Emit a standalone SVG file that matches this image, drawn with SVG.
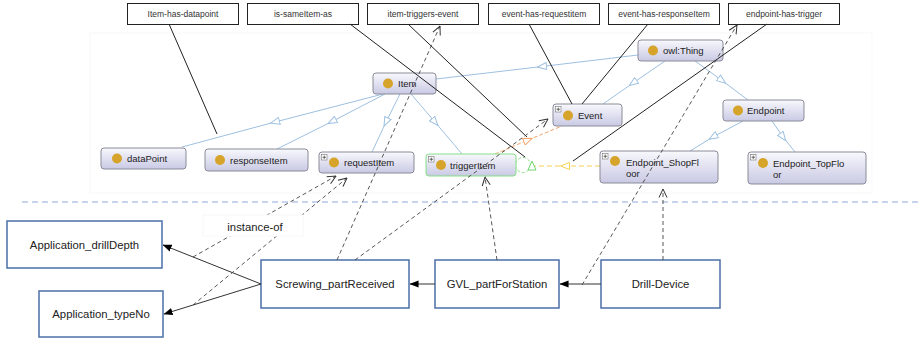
<svg xmlns="http://www.w3.org/2000/svg" width="920" height="340" viewBox="0 0 920 340">
<defs>
<linearGradient id="ng" x1="0" y1="0" x2="0" y2="1">
<stop offset="0" stop-color="#f8f8fd"/>
<stop offset="1" stop-color="#c9c9e4"/>
</linearGradient>
<marker id="tri" viewBox="0 0 10 8" markerUnits="userSpaceOnUse" markerWidth="10" markerHeight="8" refX="5" refY="4" orient="auto">
<path d="M0.5,0.5 L9.5,4 L0.5,7.5 z" fill="#fff" stroke="#9dc0e0" stroke-width="1"/>
</marker>
<marker id="triO" viewBox="0 0 10 8" markerUnits="userSpaceOnUse" markerWidth="10" markerHeight="8" refX="5" refY="4" orient="auto">
<path d="M0.5,0.5 L9.5,4 L0.5,7.5 z" fill="#fff" stroke="#f5a66e" stroke-width="1"/>
</marker>
<marker id="triY" viewBox="0 0 10 8" markerUnits="userSpaceOnUse" markerWidth="10" markerHeight="8" refX="5" refY="4" orient="auto">
<path d="M0.5,0.5 L9.5,4 L0.5,7.5 z" fill="#fff" stroke="#f7d155" stroke-width="1"/>
</marker>
<marker id="open" viewBox="0 0 10 10" markerUnits="userSpaceOnUse" markerWidth="10" markerHeight="10" refX="9.5" refY="5" orient="auto">
<path d="M1,1 L9.5,5 L1,9" fill="none" stroke="#333" stroke-width="1"/>
</marker>
<marker id="fill" viewBox="0 0 10 8" markerUnits="userSpaceOnUse" markerWidth="9" markerHeight="8" refX="9.5" refY="4" orient="auto">
<path d="M0,0 L10,4 L0,8 z" fill="#000"/>
</marker>
<style>
.onode{fill:url(#ng);stroke:#8b8b99;stroke-width:1}
.trig{fill:url(#ng);stroke:#86df86;stroke-width:1}
.dot{fill:#d7a42b}
.ot{font-family:"Liberation Sans",Arial,sans-serif;font-size:9.5px;fill:#222}
.plus{fill:#fff;stroke:#777;stroke-width:0.6}
.pl{stroke:#333;stroke-width:0.7}
.lbox{fill:#fff;stroke:#222;stroke-width:1}
.lt{font-family:"Liberation Sans",Arial,sans-serif;font-size:8.5px;fill:#333;text-anchor:middle}
.ibox{fill:#fff;stroke:#4a6fa8;stroke-width:1.5}
.it{font-family:"Liberation Sans",Arial,sans-serif;font-size:11.3px;fill:#222;text-anchor:middle}
.sub{fill:none;stroke:#9dc0e0;stroke-width:1;marker-mid:url(#tri)}
.blk{stroke:#222;stroke-width:1;fill:none}
.dsh{stroke:#444;stroke-width:0.9;fill:none;stroke-dasharray:4,3;marker-end:url(#open)}
.sol{stroke:#333;stroke-width:1;fill:none;marker-end:url(#fill)}
</style>
</defs>
<rect width="920" height="340" fill="#fff"/>
<rect x="90" y="33" width="782" height="160" fill="none" stroke="#f7f7f7" stroke-width="1"/>
<line x1="22" y1="202" x2="920" y2="202" stroke="#8eaadb" stroke-width="1.2" stroke-dasharray="6,4"/>

<g id="subclass-edges">
<polyline class="sub" points="638,55 542,66.5 436,79"/>
<polyline class="sub" points="665,61 633,83 603,104"/>
<polyline class="sub" points="695,61 722,80.5 748,100"/>
<polyline class="sub" points="383,94 275,122 182,147"/>
<polyline class="sub" points="385,94 332,121.5 277,149"/>
<polyline class="sub" points="400,94 386,122 372,152"/>
<polyline class="sub" points="411,94 435,122 462,154"/>
<polyline class="sub" points="743,121 713,137 690,151"/>
<polyline class="sub" points="772,121 783,137 795,152"/>
<polyline points="495,154 528,140 562,126" fill="none" stroke="#f5a66e" stroke-width="1" stroke-dasharray="4,2" marker-mid="url(#triO)"/>
<polyline points="600,166 565,166 532,166" fill="none" stroke="#f7d155" stroke-width="1" stroke-dasharray="5,3" marker-mid="url(#triY)"/>
<circle cx="523" cy="165" r="7.5" fill="none" stroke="#86df86" stroke-width="1" stroke-dasharray="3,2"/>
<path d="M528,170 L536,170 L532,161 z" fill="#fff" stroke="#6fd46f" stroke-width="1"/>
</g>

<g id="n-owlThing"><rect class="onode" x="638" y="40" width="85" height="21" rx="3"/><circle class="dot" cx="653" cy="50.5" r="5"/><text class="ot" x="663" y="54">owl:Thing</text></g>
<g id="n-Item"><rect class="onode" x="373" y="73" width="63" height="21" rx="3"/><circle class="dot" cx="388" cy="83.5" r="5"/><text class="ot" x="398" y="87">Item</text></g>
<g id="n-Event"><rect class="onode" x="553" y="104" width="69" height="22" rx="3"/><rect class="plus" x="555.5" y="106.5" width="5.5" height="5.5"/><path class="pl" d="M556.5,109.25 h3.5 M558.25,107.5 v3.5"/><circle class="dot" cx="568" cy="115.5" r="5"/><text class="ot" x="578" y="119">Event</text></g>
<g id="n-Endpoint"><rect class="onode" x="723" y="100" width="81" height="21" rx="3"/><circle class="dot" cx="738" cy="110.5" r="5"/><text class="ot" x="747" y="114">Endpoint</text></g>
<g id="n-dataPoint"><rect class="onode" x="101" y="148" width="85" height="21" rx="3"/><circle class="dot" cx="117" cy="158.5" r="5"/><text class="ot" x="127" y="162">dataPoint</text></g>
<g id="n-responseItem"><rect class="onode" x="205" y="149" width="103" height="22" rx="3"/><circle class="dot" cx="220" cy="160" r="5"/><text class="ot" x="230" y="163.5">responseItem</text></g>
<g id="n-requestItem"><rect class="onode" x="319" y="152" width="95" height="21" rx="3"/><rect class="plus" x="321.5" y="154.5" width="5.5" height="5.5"/><path class="pl" d="M322.5,157.25 h3.5 M324.25,155.5 v3.5"/><circle class="dot" cx="334" cy="162.5" r="5"/><text class="ot" x="344" y="166">requestItem</text></g>
<g id="n-triggerItem"><rect class="trig" x="426" y="154" width="90" height="22" rx="3"/><rect class="plus" x="428.5" y="156.5" width="5.5" height="5.5"/><path class="pl" d="M429.5,159.25 h3.5 M431.25,157.5 v3.5"/><circle class="dot" cx="441" cy="165" r="5"/><text class="ot" x="450" y="168.5">triggerItem</text></g>
<g id="n-Endpoint_ShopFloor"><rect class="onode" x="600" y="151" width="118" height="32" rx="3"/><rect class="plus" x="602.5" y="153.5" width="5.5" height="5.5"/><path class="pl" d="M603.5,156.25 h3.5 M605.25,154.5 v3.5"/><circle class="dot" cx="615" cy="161" r="5"/><text class="ot" x="626" y="165.5">Endpoint_ShopFl</text><text class="ot" x="626" y="176.5">oor</text></g>
<g id="n-Endpoint_TopFloor"><rect class="onode" x="748" y="152" width="118" height="32" rx="3"/><rect class="plus" x="750.5" y="154.5" width="5.5" height="5.5"/><path class="pl" d="M751.5,157.25 h3.5 M753.25,155.5 v3.5"/><circle class="dot" cx="763" cy="163" r="5"/><text class="ot" x="773" y="167">Endpoint_TopFlo</text><text class="ot" x="773" y="178">or</text></g>

<g id="l-Item-has-datapoint"><rect class="lbox" x="127.5" y="3.5" width="111" height="21"/><text class="lt" x="183" y="16.5">Item-has-datapoint</text></g>
<g id="l-is-sameItem-as"><rect class="lbox" x="247.5" y="3.5" width="111" height="21"/><text class="lt" x="303" y="16.5">is-sameItem-as</text></g>
<g id="l-item-triggers-event"><rect class="lbox" x="367.5" y="3.5" width="111" height="21"/><text class="lt" x="423" y="16.5">item-triggers-event</text></g>
<g id="l-event-has-requestitem"><rect class="lbox" x="488.5" y="3.5" width="111" height="21"/><text class="lt" x="544" y="16.5">event-has-requestitem</text></g>
<g id="l-event-has-responseItem"><rect class="lbox" x="608.5" y="3.5" width="111" height="21"/><text class="lt" x="664" y="16.5">event-has-responseItem</text></g>
<g id="l-endpoint-has-trigger"><rect class="lbox" x="728.5" y="3.5" width="111" height="21"/><text class="lt" x="784" y="16.5">endpoint-has-trigger</text></g>

<g id="i-Application_drillDepth"><rect class="ibox" x="7" y="221" width="155" height="47"/><text class="it" x="84.5" y="248.5">Application_drillDepth</text></g>
<g id="i-Application_typeNo"><rect class="ibox" x="39" y="291" width="124" height="46"/><text class="it" x="101" y="318">Application_typeNo</text></g>
<g id="i-Screwing_partReceived"><rect class="ibox" x="261" y="260" width="148" height="48"/><text class="it" x="335" y="288">Screwing_partReceived</text></g>
<g id="i-GVL_partForStation"><rect class="ibox" x="435" y="260" width="124" height="48"/><text class="it" x="497" y="288">GVL_partForStation</text></g>
<g id="i-Drill-Device"><rect class="ibox" x="601" y="260" width="119" height="48"/><text class="it" x="660.5" y="288">Drill-Device</text></g>

<g id="connectors">
<line class="blk" x1="169" y1="24" x2="217" y2="134"/>
<line class="blk" x1="350" y1="24" x2="525" y2="157"/>
<line class="blk" x1="408" y1="24" x2="527" y2="137"/>
<line class="blk" x1="529" y1="24" x2="572" y2="104"/>
<line class="blk" x1="648" y1="24" x2="582" y2="104"/>
<line class="blk" x1="767" y1="24" x2="573" y2="161"/>
<line class="sol" x1="261" y1="284" x2="163" y2="245"/>
<line class="sol" x1="261" y1="284" x2="164" y2="314"/>
<line class="sol" x1="435" y1="284" x2="410" y2="284"/>
<line class="sol" x1="601" y1="284" x2="560" y2="284"/>
<line class="dsh" x1="193" y1="257" x2="336" y2="176"/>
<line class="dsh" x1="193" y1="305" x2="347" y2="178"/>
<line class="dsh" x1="337" y1="260" x2="440" y2="26"/>
<line class="dsh" x1="355" y1="260" x2="548" y2="119"/>
<line class="dsh" x1="497" y1="260" x2="485" y2="177"/>
<line class="dsh" x1="582" y1="285" x2="737" y2="25"/>
<line class="dsh" x1="663" y1="260" x2="663" y2="189"/>
<rect x="203" y="215" width="100" height="21" fill="#fff" stroke="#f8f8f8" stroke-width="1"/>
<text class="it" x="255" y="231">instance-of</text>
</g>
</svg>
